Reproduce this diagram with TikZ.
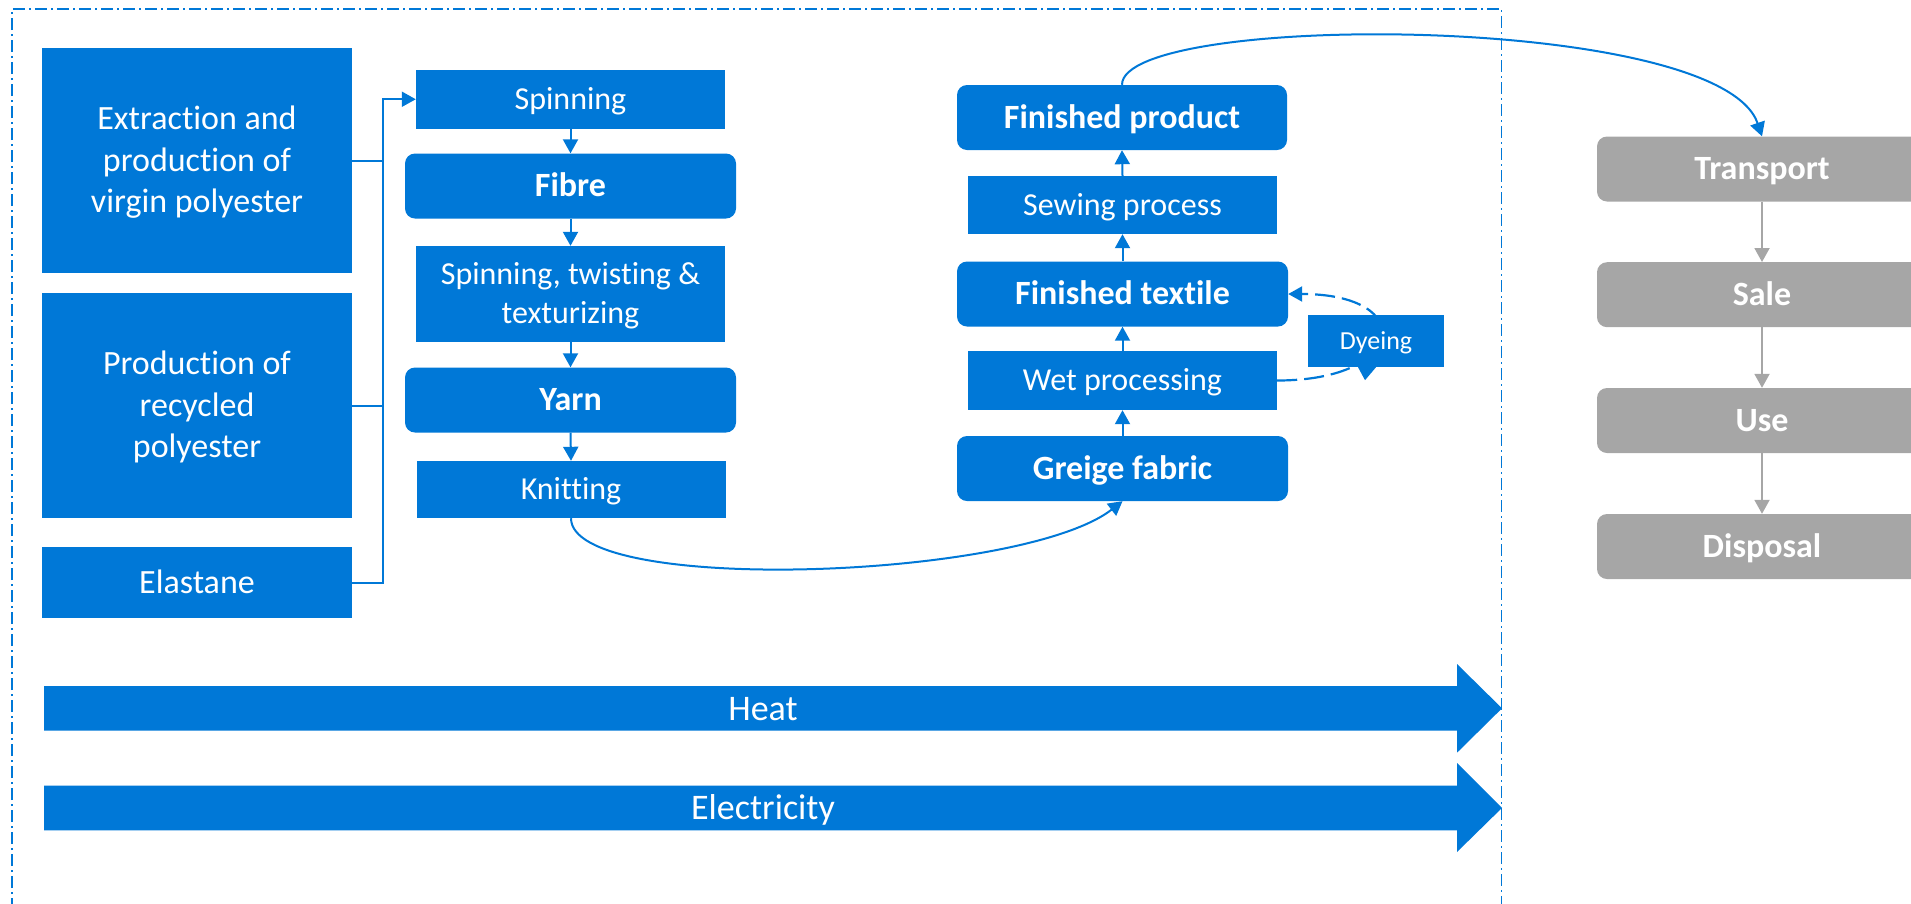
\documentclass[tikz,border=0pt]{standalone}
\usepackage{fontspec}
\setmainfont{Carlito}[Ligatures=NoCommon]
\usetikzlibrary{arrows.meta}
\definecolor{flowblue}{RGB}{0,120,215}
\definecolor{lifegray}{RGB}{166,166,166}
\begin{document}
\begin{tikzpicture}[x=1pt,y=-1pt,
  box/.style={fill=flowblue, text=white, inner sep=0pt, align=center,
    font=\fontsize{32}{39}\selectfont, text height=20.2pt, text depth=0pt},
  srcbox/.style={box, minimum width=310pt, minimum height=#1,
    font=\fontsize{34}{41.5}\selectfont, text height=21.5pt},
  threelines/.style={text height=104.5pt},
  twolines/.style={text height=59.2pt},
  procbox/.style={box, minimum width=309pt, minimum height=#1},
  stagebox/.style={box, rounded corners=10pt, minimum width=331pt,
    minimum height=65pt, font=\fontsize{34}{41}\selectfont\bfseries, text height=21.5pt},
  lifebox/.style={fill=lifegray, text=white, inner sep=0pt, rounded corners=10pt,
    minimum width=330pt, minimum height=65pt, font=\fontsize{34}{41}\selectfont\bfseries,
    text height=21.5pt, text depth=0pt},
  flow/.style={draw=flowblue, line width=2pt, -{Triangle[width=15pt,length=14pt]}},
  plainline/.style={draw=flowblue, line width=2pt},
  gflow/.style={draw=lifegray, line width=2pt, -{Triangle[width=15pt,length=14pt]}},
  energy/.style={text=white, inner sep=0pt, font=\fontsize{36}{43}\selectfont,
    text height=22.75pt, text depth=0pt}]
\useasboundingbox (0,0) rectangle (1911,903);
\clip (0,0) rectangle (1911,903);

% system boundary
\draw[flowblue, line width=1.2pt, dash pattern=on 12pt off 4pt on 2pt off 4pt]
  (12,910) -- (12,9) -- (1501.6,9) -- (1501.6,910);

% raw materials
\node[srcbox=225pt, threelines] (ext) at (197,160.5) {Extraction and\\production of\\virgin polyester};
\node[srcbox=225pt, threelines] (rec) at (197,405.5) {Production of\\recycled\\polyester};
\node[srcbox=71pt] (ela) at (197,582.5) {Elastane};

% fibre and yarn production
\node[procbox=58.5pt] (spin) at (570.5,99.25) {Spinning};
\node[stagebox] (fibre) at (570.5,186) {Fibre};
\node[procbox=96pt, twolines] (stt) at (570.5,294) {Spinning, twisting \&\\texturizing};
\node[stagebox] (yarn) at (570.5,400) {Yarn};
\node[procbox=57pt] (knit) at (571,489.5) {Knitting};

% fabric and garment production
\node[stagebox, minimum width=330pt] (fprod) at (1122,117.5) {Finished product};
\node[procbox=58pt] (sew) at (1122.5,205) {Sewing process};
\node[stagebox] (ftex) at (1122.5,294) {Finished textile};
\node[procbox=59pt] (wet) at (1122.5,380.5) {Wet processing};
\node[stagebox] (greige) at (1122.5,468.5) {Greige fabric};

% downstream life cycle
\node[lifebox] (trans) at (1762,169) {Transport};
\node[lifebox] (sale) at (1762,294.7) {Sale};
\node[lifebox] (use) at (1762,420.5) {Use};
\node[lifebox] (disp) at (1762,546.5) {Disposal};

% feed of raw materials into spinning
\coordinate (bus) at (383,99.25);
\draw[flow] (ela.east) -| (bus) -- (spin.west);
\draw[plainline] (ext.east) -- (ext.east -| bus);
\draw[plainline] (rec.east) -- (rec.east -| bus);

% process chain
\draw[flow] (spin.south) -- (fibre.north);
\draw[flow] (fibre.south) -- (stt.north);
\draw[flow] (stt.south) -- (yarn.north);
\draw[flow] (yarn.south) -- (knit.north);
\draw[flow] (knit.south) .. controls +(0,77) and +(-102,79) .. (greige.south);
\draw[flow] (greige.north) -- (wet.south);
\draw[flow] (wet.north) -- (ftex.south);
\draw[flow] (ftex.north) -- (sew.south);
\draw[flow] (sew.north) -- (fprod.south);
\draw[flow] (fprod.north) .. controls +(0,-73) and +(-42,-124) .. (trans.north);

% dyeing loop
\draw[draw=flowblue, line width=2.2pt, dash pattern=on 20pt off 7pt,
  -{Triangle[width=15pt,length=14pt]}]
  (wet.east) .. controls +(130,0) and +(130,0) .. (ftex.east);
\node[box, minimum width=136pt, minimum height=52pt,
  font=\fontsize{26}{31}\selectfont, text height=16.4pt] (dye) at (1376,341) {Dyeing};
\fill[flowblue] ([xshift=-18pt]dye.south) -- (dye.south)
  -- ([xshift=-11pt,yshift=-13pt]dye.south) -- cycle;

% life cycle chain
\draw[gflow] (trans.south) -- (sale.north);
\draw[gflow] (sale.south) -- (use.north);
\draw[gflow] (use.south) -- (disp.north);

% energy inputs
\fill[flowblue] (44,686) -- (1457,686) -- (1457,664) -- (1502,708.3)
  -- (1457,752.7) -- (1457,730.7) -- (44,730.7) -- cycle;
\node[energy] (heat) at (763,708.8) {Heat};
\fill[flowblue] (44,785.5) -- (1457,785.5) -- (1457,763) -- (1502,807.9)
  -- (1457,852) -- (1457,830.3) -- (44,830.3) -- cycle;
\node[energy] (elec) at (763,808.4) {Electricity};
\end{tikzpicture}
\end{document}
